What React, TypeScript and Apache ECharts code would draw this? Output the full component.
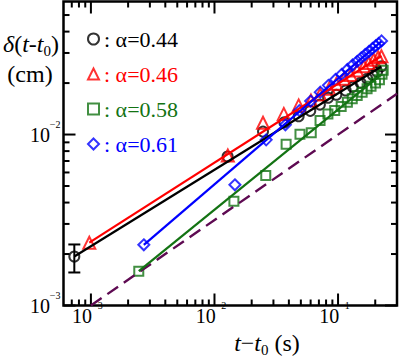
import React, { useEffect, useRef } from 'react';
import * as echarts from 'echarts';

const X_MIN = 6e-4;
const X_MAX = 0.3;
const Y_MIN = 1e-3;
const Y_MAX = 0.06;

const FONT = 'Liberation Serif';

// alpha = 0.44 (black circles)
const blackX = [7.34e-4, 0.01277, 0.0247, 0.0368, 0.048, 0.0596, 0.0713, 0.0831, 0.0969, 0.1153, 0.1318, 0.152, 0.172, 0.191, 0.207, 0.2244];
const blackY = [1.934e-3, 7.44e-3, 0.0104, 0.0118, 0.0128, 0.01376, 0.01497, 0.0164, 0.0171, 0.0181, 0.019, 0.0201, 0.0212, 0.0223, 0.0233, 0.0251];
const blackErr = [1.56e-3, 2.275e-3];
const blackFitX = [7.34e-4, 0.2244];
const blackFitY = [1.934e-3, 0.025];

// alpha = 0.46 (red triangles)
const redX = [9.7e-4, 0.01282, 0.0247, 0.0364, 0.048, 0.0604, 0.0716, 0.0847, 0.0969, 0.1116, 0.1265, 0.1429, 0.1618, 0.1774, 0.1945, 0.211, 0.2244];
const redY = [2.33e-3, 7.54e-3, 0.01171, 0.0132, 0.0148, 0.0158, 0.01714, 0.0185, 0.0198, 0.0212, 0.0223, 0.0237, 0.0251, 0.0262, 0.0274, 0.0283, 0.0287];
const redFitX = [9.7e-4, 0.2244];
const redFitY = [2.33e-3, 0.0288];

// alpha = 0.58 (green squares)
const greenX = [2.44e-3, 0.01436, 0.026, 0.038, 0.0492, 0.0607, 0.0715, 0.0828, 0.094, 0.106, 0.119, 0.1303, 0.1429, 0.1567, 0.1718, 0.1849, 0.2009, 0.2163, 0.2271, 0.232];
const greenY = [1.588e-3, 4.07e-3, 5.76e-3, 8.77e-3, 0.01004, 0.01023, 0.01208, 0.0132, 0.0138, 0.0146, 0.01545, 0.01617, 0.0169, 0.01767, 0.0185, 0.01914, 0.02, 0.0209, 0.0225, 0.0238];
const greenFitX = [2.44e-3, 0.2244];
const greenFitY = [1.588e-3, 0.0225];

// alpha = 0.61 (blue diamonds)
const blueX = [2.68e-3, 0.01463, 0.0262, 0.0375, 0.0486, 0.06, 0.0718, 0.0836, 0.0954, 0.107, 0.119, 0.131, 0.143, 0.154, 0.166, 0.178, 0.19, 0.202, 0.213, 0.225];
const blueY = [2.265e-3, 5.08e-3, 9.31e-3, 0.0114, 0.0138, 0.0157, 0.0177, 0.0194, 0.021, 0.0225, 0.024, 0.0255, 0.0268, 0.0281, 0.0294, 0.0306, 0.0319, 0.0331, 0.0341, 0.0353];
const blueFitX = [2.68e-3, 0.2244];
const blueFitY = [2.265e-3, 0.0351];

// reference slope 1/2 (dashed)
const refX = [1e-3, 0.3];
const refY = [1e-3, 0.0173];

const legendNames = ['α=0.44', 'α=0.46', 'α=0.58', 'α=0.61'];

// tick values
const xMajorTicks = [1e-3, 1e-2, 1e-1];
const xMinorTicks = [7e-4, 8e-4, 9e-4, 2e-3, 3e-3, 4e-3, 5e-3, 6e-3, 7e-3, 8e-3, 9e-3, 2e-2, 3e-2, 4e-2, 5e-2, 6e-2, 7e-2, 8e-2, 9e-2, 2e-1];
const yMajorTicks = [1e-3, 1e-2];
const yMinorTicks = [2e-3, 3e-3, 4e-3, 5e-3, 6e-3, 7e-3, 8e-3, 9e-3, 2e-2, 3e-2, 4e-2, 5e-2];

const zip = (a: number[], b: number[]) => a.map((v, i) => [v, b[i]]);

function powLabel(v: number) {
  const l = Math.log10(v);
  const r = Math.round(l);
  if (Math.abs(l - r) > 1e-6) return '';
  return '{b|10}{s|' + (r < 0 ? '\u2212' : '') + Math.abs(r) + '}';
}

const labelRich = {
  b: { fontFamily: FONT, fontSize: 20, lineHeight: 20, color: '#000', verticalAlign: 'bottom' },
  s: { fontFamily: FONT, fontSize: 10, lineHeight: 10, color: '#000', verticalAlign: 'bottom', padding: [0, 0, 15, 0] },
};

const titleRich = {
  i: { fontFamily: FONT, fontSize: 24, lineHeight: 24, fontStyle: 'italic', fill: '#000', verticalAlign: 'top' },
  n: { fontFamily: FONT, fontSize: 24, lineHeight: 24, fill: '#000', verticalAlign: 'top' },
  sub: { fontFamily: FONT, fontSize: 15, lineHeight: 15, fill: '#000', verticalAlign: 'top', padding: [11, 0, 0, 0] },
};

export default function App() {
  const ref = useRef<HTMLDivElement>(null);
  useEffect(() => {
    if (!ref.current) return;
    const chart = echarts.init(ref.current, null, { renderer: 'svg' });

    const scatterDefs = [
      { name: legendNames[0], x: blackX, y: blackY, color: '#000000', symbol: 'circle', size: 10 },
      { name: legendNames[1], x: redX, y: redY, color: '#ff0000', symbol: 'triangle', size: 12 },
      { name: legendNames[2], x: greenX, y: greenY, color: '#137313', symbol: 'rect', size: 9 },
      { name: legendNames[3], x: blueX, y: blueY, color: '#0000ff', symbol: 'diamond', size: 11 },
    ];
    const fitDefs = [
      { x: blackFitX, y: blackFitY, color: '#000000' },
      { x: redFitX, y: redFitY, color: '#ff0000' },
      { x: greenFitX, y: greenFitY, color: '#137313' },
      { x: blueFitX, y: blueFitY, color: '#0000ff' },
    ];

    const tickData: number[][] = [
      ...xMajorTicks.map((v) => [v, Y_MIN, 0]),
      ...xMinorTicks.map((v) => [v, Y_MIN, 1]),
      ...yMajorTicks.map((v) => [X_MIN, v, 2]),
      ...yMinorTicks.map((v) => [X_MIN, v, 3]),
    ];

    const option: any = {
      animation: false,
      textStyle: { fontFamily: FONT },
      grid: {
        show: true,
        left: 63.5,
        right: 2,
        top: 1.5,
        bottom: 55.5,
        borderColor: '#000',
        borderWidth: 2.5,
        backgroundColor: 'transparent',
      },
      xAxis: {
        type: 'log',
        logBase: 10,
        min: X_MIN,
        max: X_MAX,
        axisLine: { show: false },
        axisTick: { show: false },
        splitLine: { show: false },
        minorTick: { show: false },
        axisLabel: {
          margin: 0,
          padding: [0, 7, 0, 0],
          formatter: powLabel,
          rich: labelRich,
          showMinLabel: false,
          showMaxLabel: false,
        },
      },
      yAxis: {
        type: 'log',
        logBase: 10,
        min: Y_MIN,
        max: Y_MAX,
        axisLine: { show: false },
        axisTick: { show: false },
        splitLine: { show: false },
        axisLabel: {
          margin: 3,
          formatter: powLabel,
          rich: labelRich,
          showMaxLabel: false,
        },
      },
      legend: {
        orient: 'vertical',
        left: 82,
        top: 23,
        itemWidth: 11,
        itemHeight: 11,
        itemGap: 13,
        selectedMode: false,
        formatter: (name: string) => ': ' + name,
        textStyle: { fontFamily: FONT, fontSize: 22 },
        data: scatterDefs.map((d) => ({
          name: d.name,
          icon: d.symbol,
          itemStyle: { color: 'rgba(255,255,255,0)', borderColor: d.color, borderWidth: 2 },
          textStyle: { color: d.color, fontFamily: FONT, fontSize: 22 },
        })),
      },
      graphic: [
        {
          type: 'text',
          x: 267,
          y: 343,
          style: {
            text: '{i|t}{n|\u2212}{i|t}{sub|0}{n| (s)}',
            rich: titleRich,
            textAlign: 'center',
            textVerticalAlign: 'middle',
            fill: '#000',
          },
        },
        {
          type: 'text',
          x: 31,
          y: 44,
          style: {
            text: '{i|\u03b4}{n|(}{i|t}{n|-}{i|t}{sub|0}{n|)}',
            rich: titleRich,
            textAlign: 'center',
            textVerticalAlign: 'middle',
            fill: '#000',
          },
        },
        {
          type: 'text',
          x: 30,
          y: 74,
          style: {
            text: '(cm)',
            fontFamily: FONT,
            fontSize: 24,
            textAlign: 'center',
            textVerticalAlign: 'middle',
            fill: '#000',
          },
        },
      ],
      series: [
        {
          type: 'custom',
          name: 'ticks',
          silent: true,
          clip: false,
          data: tickData,
          encode: { x: 0, y: 1 },
          renderItem: (params: any, api: any) => {
            const kind = api.value(2);
            const bl = api.coord([X_MIN, Y_MIN]);
            const tr = api.coord([X_MAX, Y_MAX]);
            const len = kind % 2 === 0 ? 12 : 6;
            const style = { stroke: '#000', lineWidth: 2 };
            if (kind < 2) {
              const x = api.coord([api.value(0), Y_MIN])[0];
              return {
                type: 'group',
                children: [
                  { type: 'line', shape: { x1: x, y1: bl[1], x2: x, y2: bl[1] - len }, style },
                  { type: 'line', shape: { x1: x, y1: tr[1], x2: x, y2: tr[1] + len }, style },
                ],
              };
            }
            const y = api.coord([X_MIN, api.value(1)])[1];
            return {
              type: 'group',
              children: [
                { type: 'line', shape: { x1: bl[0], y1: y, x2: bl[0] + len, y2: y }, style },
                { type: 'line', shape: { x1: tr[0], y1: y, x2: tr[0] - len, y2: y }, style },
              ],
            };
          },
        },
        {
          type: 'line',
          name: 'ref',
          data: zip(refX, refY),
          symbol: 'none',
          silent: true,
          lineStyle: { color: '#5e0a52', width: 2.4, type: [13, 7] },
        },
        ...fitDefs.map((f, i) => ({
          type: 'line',
          name: 'fit' + i,
          data: zip(f.x, f.y),
          symbol: 'none',
          silent: true,
          lineStyle: { color: f.color, width: 2.2 },
        })),
        {
          type: 'custom',
          name: 'errorbar',
          silent: true,
          data: [[blackX[0], blackErr[0], blackErr[1]]],
          encode: { x: 0, y: [1, 2] },
          renderItem: (params: any, api: any) => {
            const lo = api.coord([api.value(0), api.value(1)]);
            const hi = api.coord([api.value(0), api.value(2)]);
            const style = { stroke: '#000', lineWidth: 2 };
            const w = 6;
            return {
              type: 'group',
              children: [
                { type: 'line', shape: { x1: lo[0], y1: lo[1], x2: hi[0], y2: hi[1] }, style },
                { type: 'line', shape: { x1: lo[0] - w, y1: lo[1], x2: lo[0] + w, y2: lo[1] }, style },
                { type: 'line', shape: { x1: hi[0] - w, y1: hi[1], x2: hi[0] + w, y2: hi[1] }, style },
              ],
            };
          },
        },
        ...scatterDefs.map((d) => ({
          type: 'scatter',
          name: d.name,
          data: zip(d.x, d.y),
          symbol: d.symbol,
          symbolSize: d.size,
          itemStyle: { color: 'rgba(255,255,255,0)', borderColor: d.color, borderWidth: 2 },
        })),
      ],
    };
    chart.setOption(option);
    return () => chart.dispose();
  }, []);

  return (
    <div
      ref={ref}
      style={{ position: 'absolute', left: 0, top: 0, width: 399, height: 361 }}
    />
  );
}
